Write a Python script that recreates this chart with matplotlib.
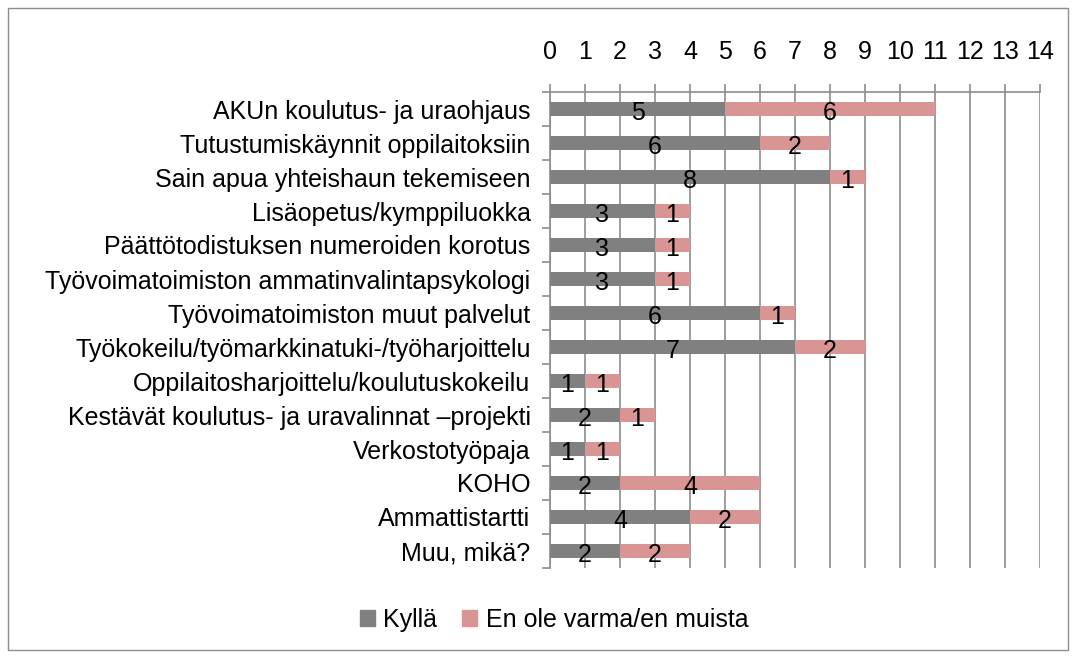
import matplotlib.pyplot as plt
import matplotlib.patches as mpatches
from matplotlib.ticker import FixedLocator
import numpy as np

plt.rcParams["font.family"] = ["Liberation Sans", "DejaVu Sans"]

categories = [
    "AKUn koulutus- ja uraohjaus",
    "Tutustumiskäynnit oppilaitoksiin",
    "Sain apua yhteishaun tekemiseen",
    "Lisäopetus/kymppiluokka",
    "Päättötodistuksen numeroiden korotus",
    "Työvoimatoimiston ammatinvalintapsykologi",
    "Työvoimatoimiston muut palvelut",
    "Työkokeilu/työmarkkinatuki-/työharjoittelu",
    "Oppilaitosharjoittelu/koulutuskokeilu",
    "Kestävät koulutus- ja uravalinnat –projekti",
    "Verkostotyöpaja",
    "KOHO",
    "Ammattistartti",
    "Muu, mikä?",
]
kylla = [5, 6, 8, 3, 3, 3, 6, 7, 1, 2, 1, 2, 4, 2]
en_ole = [6, 2, 1, 1, 1, 1, 1, 2, 1, 1, 1, 4, 2, 2]
series_names = ["Kyllä", "En ole varma/en muista"]

GRAY = "#808080"
PINK = "#D99594"
GRID = "#8C8C8C"
FS = 18

fig = plt.figure(figsize=(10.76, 6.57), dpi=100)
fig.patch.set_facecolor("white")
fig.patches.append(mpatches.Rectangle((8 / 1076, 7 / 657), 1060 / 1076, 642 / 657,
                                      transform=fig.transFigure, fill=False,
                                      edgecolor="#8C8C8C", lw=1.0))

ax = fig.add_axes([550 / 1076, 1 - 568 / 657, 490 / 1076, 476 / 657])
y = np.arange(len(categories))
h = 0.42
ax.barh(y, kylla, height=h, color=GRAY, zorder=3)
ax.barh(y, en_ole, left=kylla, height=h, color=PINK, zorder=3)

for yi, a, b in zip(y, kylla, en_ole):
    ax.text(a / 2, yi + 0.12, str(a), ha="center", va="center", fontsize=FS, zorder=4)
    ax.text(a + b / 2, yi + 0.12, str(b), ha="center", va="center", fontsize=FS, zorder=4)

ax.set_xlim(0, 14)
ax.set_ylim(len(categories) - 0.5, -0.5)
ax.set_xticks(range(15))
ax.xaxis.tick_top()
ax.tick_params(axis="x", direction="out", length=6, width=1.2, color=GRID,
               labelsize=FS, pad=14)
ax.set_yticks(y)
ax.set_yticklabels(categories, fontsize=FS)
ax.tick_params(axis="y", length=0, pad=14)
ax.yaxis.set_minor_locator(FixedLocator(np.arange(-0.5, len(categories), 1)))
ax.tick_params(axis="y", which="minor", length=6, width=1.2, color=GRID, direction="out")
ax.grid(axis="x", color=GRID, lw=1.2, zorder=0)

for s in ["right", "bottom"]:
    ax.spines[s].set_visible(False)
ax.spines["top"].set_color(GRID)
ax.spines["left"].set_color(GRID)
ax.spines["top"].set_linewidth(1.2)
ax.spines["left"].set_linewidth(1.2)

handles = [mpatches.Patch(color=GRAY), mpatches.Patch(color=PINK)]
fig.legend(handles, series_names, loc="center", bbox_to_anchor=(0.515, 1 - 620 / 657),
           ncol=2, frameon=False, fontsize=FS, handlelength=0.6, handleheight=0.6,
           handletextpad=0.35, columnspacing=1.0)

fig.savefig("out.png", dpi=100)
